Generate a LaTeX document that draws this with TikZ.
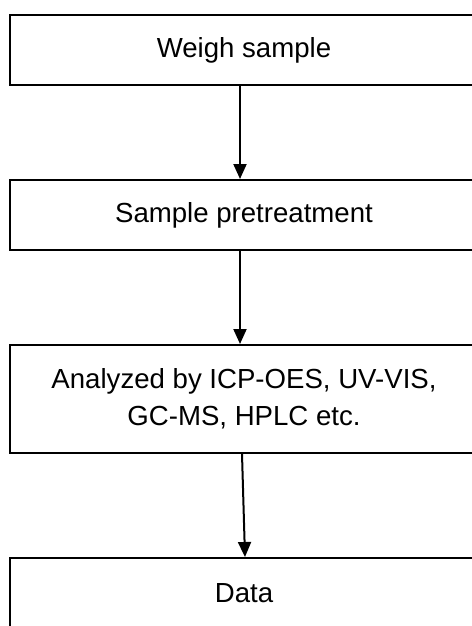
\documentclass[tikz,border=0pt]{standalone}
\usepackage{fontspec}
\setmainfont{Liberation Sans}
\usetikzlibrary{positioning,arrows.meta}

\begin{document}
\begin{tikzpicture}[x=0.5pt, y=-0.5pt,
    stage/.style={draw, line width=1pt, minimum width=234pt, minimum height=35pt, align=center, font=\fontsize{13.8}{18.5}\selectfont},
    flow/.style={line width=1pt, -{Triangle[width=6.5pt,length=7.5pt]}}]
    \useasboundingbox (0,0) rectangle (471,626);

    \node (weigh) [stage] at (244,50) {Weigh sample};
    \node (pretreat) [stage, below=46.5pt of weigh] {Sample pretreatment};
    \node (analyze) [stage, minimum height=54pt, below=46.5pt of pretreat] {Analyzed by ICP-OES, UV-VIS, \\ GC-MS, HPLC etc.};
    \node (data) [stage, below=51.5pt of analyze] {Data};

    \draw[flow] ([xshift=-2pt]weigh.south) -- ([xshift=-2pt]pretreat.north);
    \draw[flow] ([xshift=-2pt]pretreat.south) -- ([xshift=-2pt]analyze.north);
    \draw[flow] ([xshift=-1pt]analyze.south) -- ([xshift=0.5pt]data.north);
\end{tikzpicture}
\end{document}
